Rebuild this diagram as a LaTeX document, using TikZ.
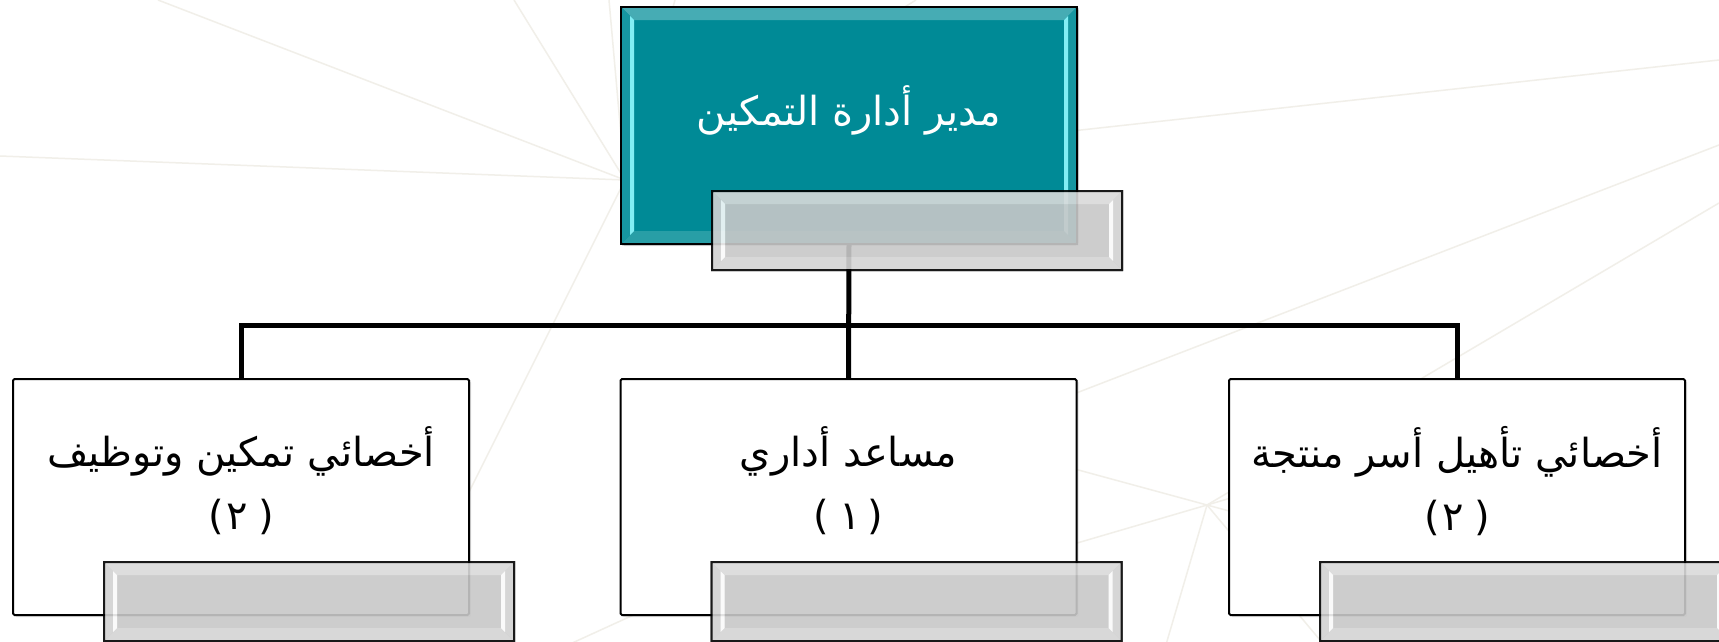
\documentclass[tikz,border=0pt]{standalone}
\usepackage{fontspec}
\usepackage{tikz}
\usetikzlibrary{calc,shadows}
\newfontfamily\arabicfont[Script=Arabic]{DejaVu Sans}
\newfontfamily\numfont{DejaVu Sans}
\TeXXeTstate=1
\tikzset{every picture/.style={line width=0.75pt}}

\definecolor{tealbox}{RGB}{0,138,150}
\definecolor{tealtop}{RGB}{70,172,180}
\definecolor{tealbot}{RGB}{40,158,166}
\definecolor{tealside}{RGB}{22,150,160}
\definecolor{tealhi}{RGB}{130,238,244}
\definecolor{tagfill}{RGB}{200,200,200}
\definecolor{tagtop}{RGB}{218,218,218}
\definecolor{tagbot}{RGB}{212,212,212}
\definecolor{tagside}{RGB}{210,210,210}
\definecolor{taghi}{RGB}{250,250,250}
\definecolor{bgline}{RGB}{241,239,233}

% bevel of a box: node, depth, top band, bottom band, side bands, highlight
\newcommand{\boxbevel}[6]{%
  \fill[#3] (#1.north west) -- (#1.north east) -- ($(#1.north east)+(-#2,#2)$) -- ($(#1.north west)+(#2,#2)$) -- cycle;
  \fill[#4] (#1.south west) -- (#1.south east) -- ($(#1.south east)+(-#2,-#2)$) -- ($(#1.south west)+(#2,-#2)$) -- cycle;
  \fill[#5] (#1.north west) -- ($(#1.north west)+(#2,#2)$) -- ($(#1.south west)+(#2,-#2)$) -- (#1.south west) -- cycle;
  \fill[#5] (#1.north east) -- ($(#1.north east)+(-#2,#2)$) -- ($(#1.south east)+(-#2,-#2)$) -- (#1.south east) -- cycle;
  \fill[#6] ($(#1.north west)+(#2-4,#2-4)$) -- ($(#1.north west)+(#2,#2)$) -- ($(#1.south west)+(#2,-#2)$) -- ($(#1.south west)+(#2-4,-#2+4)$) -- cycle;
  \fill[#6] ($(#1.north east)+(-#2+4,#2-4)$) -- ($(#1.north east)+(-#2,#2)$) -- ($(#1.south east)+(-#2,-#2)$) -- ($(#1.south east)+(-#2+4,-#2+4)$) -- cycle;
  \draw[line width=2pt] (#1.north west) rectangle (#1.south east);
}

\tikzset{
  post/.style={draw=black, line width=2pt, rounded corners=1.5pt, fill=white,
    minimum width=456pt, minimum height=236pt, inner sep=0pt, outer sep=0pt,
    drop shadow={shadow xshift=2pt, shadow yshift=-2pt, opacity=0.25}},
  head/.style={post, fill=tealbox, minimum height=237pt},
  tag/.style={draw=black, line width=2pt, fill=tagfill,
    minimum width=410pt, minimum height=79pt, inner sep=0pt, outer sep=0pt},
  link/.style={line width=5pt},
  back/.style={draw=bgline, line width=1.5pt},
  title/.style={font=\arabicfont\fontsize{40}{48}\selectfont, align=center, inner sep=0pt},
}

\begin{document}
\begin{tikzpicture}[x=1pt,y=1pt,yscale=-1,xscale=1]
\useasboundingbox (0,0) rectangle (1719,641);
\fill[white] (0,0) rectangle (1719,641);

%Background rays
\coordinate (ray1) at (625,180);
\coordinate (ray2) at (1207,505);
\foreach \p in {(0,156),(158,0),(514,0),(609,0),(675,0),(916,0),(440,550),(1719,60)}
  \draw[back] (ray1) -- \p;
\foreach \p in {(1060,465),(1400,557),(1060,548),(1400,448),(1165,648),(1719,203),(1330,652)}
  \draw[back] (ray2) -- \p;
\draw[back] (1719,145) -- (1040,407);
\draw[back] (570,644) -- (640,612);

%Boxes
\node[head] (boss) at (849,125.5) {};
\boxbevel{boss}{13}{tealtop}{tealbot}{tealside}{tealhi}
\node[post] (family) at (1457,497) {};
\node[post] (clerk) at (848.5,497) {};
\node[post] (hiring) at (241,497) {};

% Text Node
\node[title, text=white] (bosstext) at (849,110) {\beginR مدير أدارة التمكين\endR};
% Text Node
\node[title] (familytext) at (1457,481) {\beginR أخصائي تأهيل أسر منتجة\endR\\[15pt] {\numfont(\hspace{3pt}٢\hspace{10pt})}};
% Text Node
\node[title] (clerktext) at (848.5,481) {\beginR مساعد أداري\endR\\[15pt] {\numfont(\hspace{10pt}١\hspace{7pt})}};
% Text Node
\node[title] (hiringtext) at (241,481) {\beginR أخصائي تمكين وتوظيف\endR\\[15pt] {\numfont(\hspace{3pt}٢\hspace{10pt})}};

%Connectors
\coordinate (bus) at (boss.south |- 0,325);
\draw[link] (boss.south) -- (clerk.north);
\draw[link] (hiring.north) |- (bus) -| (family.north);

%Name plates
\begin{scope}[transparency group, opacity=0.9]
  \node[tag, anchor=north east] (bosstag) at ([xshift=45pt,yshift=-53pt]boss.south east) {};
  \boxbevel{bosstag}{13}{tagtop}{tagbot}{tagside}{taghi}
\end{scope}
\begin{scope}[transparency group, opacity=0.9]
  \node[tag, anchor=north east] (hiringtag) at ([xshift=45pt,yshift=-53pt]hiring.south east) {};
  \boxbevel{hiringtag}{13}{tagtop}{tagbot}{tagside}{taghi}
\end{scope}
\begin{scope}[transparency group, opacity=0.9]
  \node[tag, anchor=north east] (clerktag) at ([xshift=45pt,yshift=-53pt]clerk.south east) {};
  \boxbevel{clerktag}{13}{tagtop}{tagbot}{tagside}{taghi}
\end{scope}
\begin{scope}[transparency group, opacity=0.9]
  \node[tag, anchor=north east] (familytag) at ([xshift=45pt,yshift=-53pt]family.south east) {};
  \boxbevel{familytag}{13}{tagtop}{tagbot}{tagside}{taghi}
\end{scope}
\end{tikzpicture}
\end{document}
